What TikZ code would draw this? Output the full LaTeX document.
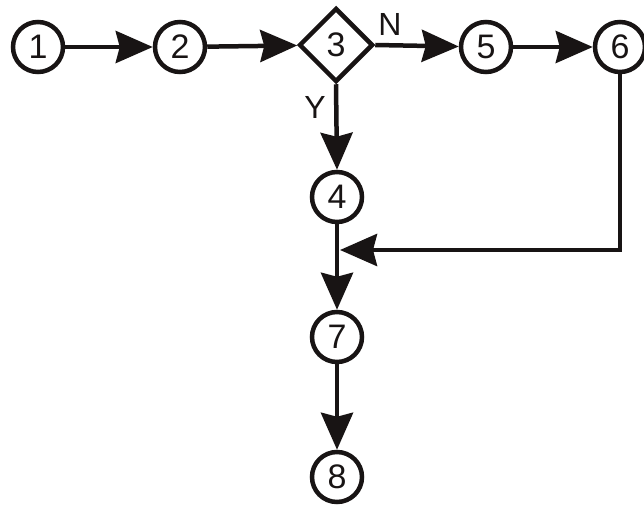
\documentclass[tikz,border=0pt]{standalone}
\usepackage{fontspec}
\setmainfont{Liberation Sans}
\usetikzlibrary{shapes.geometric,arrows.meta}
\definecolor{ink}{RGB}{24,20,20}
\begin{document}
\begin{tikzpicture}[x=1pt,y=-1pt,
  stnode/.style={circle,draw=ink,line width=4.5pt,minimum size=50pt,inner sep=0pt,
    font=\fontsize{34}{34}\selectfont,text=ink},
  decnode/.style={diamond,draw=ink,line width=4.5pt,minimum size=74pt,inner sep=0pt,aspect=1,
    font=\fontsize{34}{34}\selectfont,text=ink},
  flow/.style={draw=ink,line width=4.5pt,-{Stealth[length=37pt,width=32pt,inset=4pt]}},
  lbl/.style={font=\fontsize{32}{32}\selectfont,inner sep=0pt,text=ink}]
\useasboundingbox[fill=white] (0,0) rectangle (644,505);
\node[stnode] (n1) at (38,47) {1};
\node[stnode] (n2) at (180,47) {2};
\node[decnode] (n3) at (336,45) {3};
\node[stnode] (n5) at (486,47) {5};
\node[stnode] (n6) at (620,47) {6};
\node[stnode] (n4) at (337,197) {4};
\node[stnode] (n7) at (337,337) {7};
\node[stnode] (n8) at (337,477) {8};
\coordinate (j) at (340,250);
\node[lbl] (lN) at (390,24) {N};
\node[lbl] (lY) at (315,107) {Y};
\draw[flow] (n1) -- (n2);
\draw[flow] (n2) -- (n3);
\draw[flow] (n3.east) -- (n5);
\draw[flow] (n5) -- (n6);
\draw[flow] (n3.south) -- (n4.north);
\draw[flow] (n4) -- (n7);
\draw[flow] (n7) -- (n8);
\draw[flow] (n6.south) -- (n6.south |- j) -- (j);
\end{tikzpicture}
\end{document}
